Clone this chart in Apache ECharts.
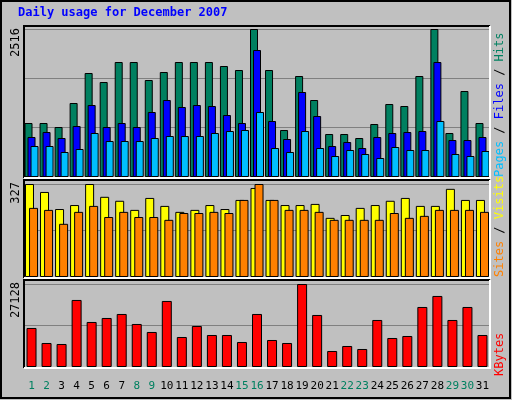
<!DOCTYPE html>
<html><head><meta charset="utf-8">
<script src="https://cdn.jsdelivr.net/npm/echarts@6/dist/echarts.min.js"></script>
<style>html,body{margin:0;padding:0;background:#C0C0C0}#c{width:512px;height:400px}</style>
</head><body><div id="c"></div>
<script>
const days = ['1','2','3','4','5','6','7','8','9','10','11','12','13','14','15','16','17','18','19','20','21','22','23','24','25','26','27','28','29','30','31'];
const weekend = ['1','2','8','9','15','16','22','23','29','30'];
const hits = [918,918,850,1258,1768,1615,1955,1955,1649,1785,1955,1955,1955,1887,1819,2516,1819,799,1717,1309,731,731,663,901,1241,1207,1717,2516,748,1462,918];
const files = [680,765,663,867,1224,850,918,850,1105,1309,1190,1224,1207,1054,918,2159,952,646,1445,1037,527,595,493,680,748,765,782,1955,629,629,680];
const pages = [527,527,425,476,748,612,612,612,663,697,697,697,748,782,799,1105,493,425,782,493,357,459,391,323,510,459,459,952,391,357,442];
const visits = [327,299,239,253,327,282,268,236,278,250,229,236,253,239,271,313,271,253,253,257,208,218,243,253,268,278,250,250,310,271,271];
const sites = [243,236,187,229,250,211,229,211,211,201,225,225,229,225,271,327,271,236,236,229,201,201,201,201,225,208,215,236,236,236,229];
const kbytes = [12753,7848,7521,21909,14715,16023,17331,14061,11445,21582,9810,13407,10464,10464,8175,17331,8829,7848,27128,17004,5232,6867,5886,15369,9483,10137,19620,23217,15369,19620,10464];
const maxes = [2516, 327, 27128];

const F = 'DejaVu Sans Mono, monospace';
const chart = echarts.init(document.getElementById('c'));
const panels = [[24,26,490,178],[24,180,490,278],[24,280,490,368]];
const graphic = [
  {type:'rect', shape:{x:1,y:1,width:509,height:397}, style:{fill:'#C0C0C0',stroke:'#000',lineWidth:2}, z:-10}
];
panels.forEach(p=>{
  graphic.push({type:'rect',shape:{x:p[0],y:p[1],width:p[2]-p[0],height:p[3]-p[1]},style:{fill:'#C0C0C0'},z:-5});
  graphic.push({type:'polyline',shape:{points:[[p[0],p[3]],[p[0],p[1]],[p[2],p[1]]]},style:{stroke:'#000',lineWidth:2,fill:null},z:10});
  graphic.push({type:'polyline',shape:{points:[[p[0],p[3]],[p[2],p[3]],[p[2],p[1]]]},style:{stroke:'#fff',lineWidth:2,fill:null},z:10});
});
graphic.push({type:'text',left:18,top:7,style:{text:'Daily usage for December 2007',fill:'#0000FF',font:'bold 12px '+F},z:20});
const leftY=[28,182,282];
maxes.forEach((m,i)=>graphic.push({type:'text',x:16,y:leftY[i],rotation:Math.PI/2,style:{text:String(m),fill:'#000',font:'12px '+F,align:'right',verticalAlign:'middle'},z:20}));
function rtext(y, parts){
  graphic.push({type:'text',x:500,y:y,rotation:Math.PI/2,style:{text:parts.map(p=>'{'+p[1]+'|'+p[0]+'}').join(''),align:'left',verticalAlign:'middle',font:'12px '+F,rich:{
    c:{fill:'#00BFFF',font:'12px '+F},b:{fill:'#0000FF',font:'12px '+F},g:{fill:'#008060',font:'12px '+F},k:{fill:'#000',font:'12px '+F},
    o:{fill:'#FF8000',font:'12px '+F},y:{fill:'#FFFF00',font:'12px '+F},r:{fill:'#FF0000',font:'12px '+F}}},z:20});
}
rtext(177,[['Pages','c'],[' / ','k'],['Files','b'],[' / ','k'],['Hits','g']]);
rtext(277,[['Sites','o'],[' / ','k'],['Visits','y']]);
rtext(376,[['KBytes','r']]);

const grids=[{left:24,top:29,width:466,height:148},{left:24,top:184,width:466,height:93},{left:24,top:284,width:466,height:83}];
const xAxis=grids.map((g,i)=>({type:'category',gridIndex:i,data:days,axisLine:{show:false},axisTick:{show:false},
  axisLabel:i===2?{show:true,margin:14,fontFamily:F,fontSize:11,interval:0,formatter:v=>weekend.includes(v)?'{w|'+v+'}':'{n|'+v+'}',rich:{w:{color:'#008060',fontFamily:F,fontSize:11},n:{color:'#000',fontFamily:F,fontSize:11}}}:{show:false}}));
const splitCounts=[3,2,2];
const yAxis=grids.map((g,i)=>({type:'value',gridIndex:i,min:0,max:maxes[i],interval:maxes[i]/splitCounts[i],axisLabel:{show:false},axisLine:{show:false},axisTick:{show:false},splitLine:{show:true,lineStyle:{color:'#808080',width:1}}}));
const bs={borderColor:'#000',borderWidth:1};
const series=[
  {type:'bar',xAxisIndex:0,yAxisIndex:0,data:hits,barWidth:8,barGap:'-62.5%',itemStyle:Object.assign({color:'#008060'},bs)},
  {type:'bar',xAxisIndex:0,yAxisIndex:0,data:files,barWidth:8,barGap:'-62.5%',itemStyle:Object.assign({color:'#0000FF'},bs)},
  {type:'bar',xAxisIndex:0,yAxisIndex:0,data:pages,barWidth:8,barGap:'-62.5%',itemStyle:Object.assign({color:'#00BFFF'},bs)},
  {type:'bar',xAxisIndex:1,yAxisIndex:1,data:visits,barWidth:9,barGap:'-55%',itemStyle:Object.assign({color:'#FFFF00'},bs)},
  {type:'bar',xAxisIndex:1,yAxisIndex:1,data:sites,barWidth:9,barGap:'-55%',itemStyle:Object.assign({color:'#FF8000'},bs)},
  {type:'bar',xAxisIndex:2,yAxisIndex:2,data:kbytes,barWidth:10,itemStyle:Object.assign({color:'#FF0000'},bs)}
];
chart.setOption({animation:false,backgroundColor:'#C0C0C0',graphic,grid:grids,xAxis,yAxis,series});
</script></body></html>
